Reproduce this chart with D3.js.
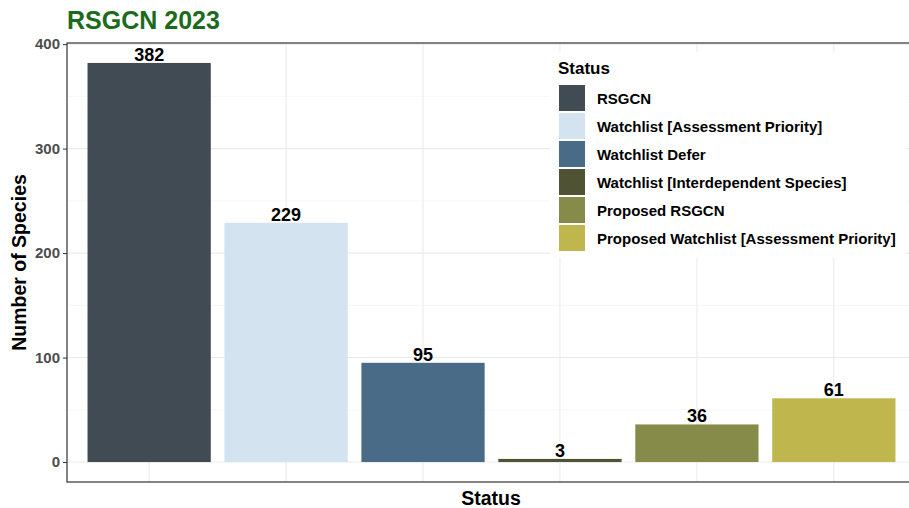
<!DOCTYPE html>
<meta charset="utf-8">
<script src="https://d3js.org/d3.v7.min.js"></script>
<style>
  body { margin: 0; background: #fff; }
  text { font-family: "Liberation Sans", Arial, sans-serif; }
</style>
<body>
<div id="chart"></div>
<script>
// data
var categories = ["RSGCN", "Watchlist [Assessment Priority]", "Watchlist Defer",
  "Watchlist [Interdependent Species]", "Proposed RSGCN", "Proposed Watchlist [Assessment Priority]"];
var counts = [382, 229, 95, 3, 36, 61];
var colors = ["#404b54", "#d3e3ef", "#4a6b88", "#4f5233", "#878b4a", "#bfb64d"];
var yTicks = [0, 100, 200, 300, 400];
var yMinor = [50, 150, 250, 350];

var W = 909, H = 508;
var panel = { left: 67, top: 43, right: 916, bottom: 482 };

var svg = d3.select("#chart").append("svg")
  .attr("width", W).attr("height", H);

// scales (ggplot style expansion: 0.6 on discrete, 5% on continuous)
var maxV = d3.max(counts);
var x = d3.scalePoint()
  .domain(categories)
  .range([panel.left, panel.right])
  .padding(0.6);
var barW = x.step() * 0.9;
var y = d3.scaleLinear()
  .domain([-maxV * 0.05, maxV * 1.05])
  .range([panel.bottom, panel.top]);

var g = svg.append("g");

// grid
g.selectAll(".minor").data(yMinor).enter().append("line")
  .attr("x1", panel.left).attr("x2", panel.right)
  .attr("y1", d => y(d)).attr("y2", d => y(d))
  .attr("stroke", "#f2f2f2").attr("stroke-width", 0.6);
g.selectAll(".major").data(yTicks).enter().append("line")
  .attr("x1", panel.left).attr("x2", panel.right)
  .attr("y1", d => y(d)).attr("y2", d => y(d))
  .attr("stroke", "#ebebeb").attr("stroke-width", 1.1);
g.selectAll(".vgrid").data(categories).enter().append("line")
  .attr("x1", d => x(d)).attr("x2", d => x(d))
  .attr("y1", panel.top).attr("y2", panel.bottom)
  .attr("stroke", "#ebebeb").attr("stroke-width", 1.1);

// bars
g.selectAll(".bar").data(counts).enter().append("rect")
  .attr("x", (d, i) => x(categories[i]) - barW / 2)
  .attr("width", barW)
  .attr("y", d => y(d))
  .attr("height", d => y(0) - y(d))
  .attr("fill", (d, i) => colors[i]);

// bar labels
g.selectAll(".lbl").data(counts).enter().append("text")
  .attr("x", (d, i) => x(categories[i]))
  .attr("y", d => y(d) - 2)
  .attr("text-anchor", "middle")
  .attr("font-size", "18px").attr("font-weight", "bold").attr("fill", "#000")
  .text(d => d);

// panel border
svg.append("rect")
  .attr("x", panel.left).attr("y", panel.top)
  .attr("width", panel.right - panel.left).attr("height", panel.bottom - panel.top)
  .attr("fill", "none").attr("stroke", "#333").attr("stroke-width", 1.2);

// y axis
var yAxis = d3.axisLeft(y).tickValues(yTicks).tickSize(4).tickPadding(3);
var ya = svg.append("g").attr("transform", "translate(" + panel.left + ",0)").call(yAxis);
ya.select(".domain").remove();
ya.selectAll(".tick line").attr("stroke", "#333");
ya.selectAll(".tick text").attr("fill", "#4d4d4d").attr("font-size", "15px")
  .attr("font-weight", "bold").attr("font-family", "Liberation Sans, Arial, sans-serif");

// titles
svg.append("text").attr("x", 67).attr("y", 29)
  .attr("font-size", "25px").attr("font-weight", "bold").attr("fill", "#1c6b1c")
  .text("RSGCN 2023");
svg.append("text")
  .attr("transform", "translate(26," + ((panel.top + panel.bottom) / 2) + ") rotate(-90)")
  .attr("text-anchor", "middle")
  .attr("font-size", "19.5px").attr("font-weight", "bold").attr("fill", "#000")
  .text("Number of Species");
svg.append("text").attr("x", 491).attr("y", 505)
  .attr("text-anchor", "middle")
  .attr("font-size", "19.5px").attr("font-weight", "bold").attr("fill", "#000")
  .text("Status");

// legend
var lg = svg.append("g").attr("transform", "translate(550,52)");
lg.append("rect").attr("x", 0).attr("y", 0).attr("width", 356).attr("height", 206).attr("fill", "#fff");
lg.append("text").attr("x", 8).attr("y", 22)
  .attr("font-size", "17px").attr("font-weight", "bold").attr("fill", "#000")
  .text("Status");
var items = lg.selectAll(".item").data(categories).enter().append("g")
  .attr("transform", (d, i) => "translate(9," + (33 + i * 28) + ")");
items.append("rect").attr("width", 26).attr("height", 26)
  .attr("fill", (d, i) => colors[i]);
items.append("text").attr("x", 38).attr("y", 18.5)
  .attr("font-size", "15px").attr("font-weight", "bold").attr("fill", "#000")
  .text(d => d);
</script>
</body>
